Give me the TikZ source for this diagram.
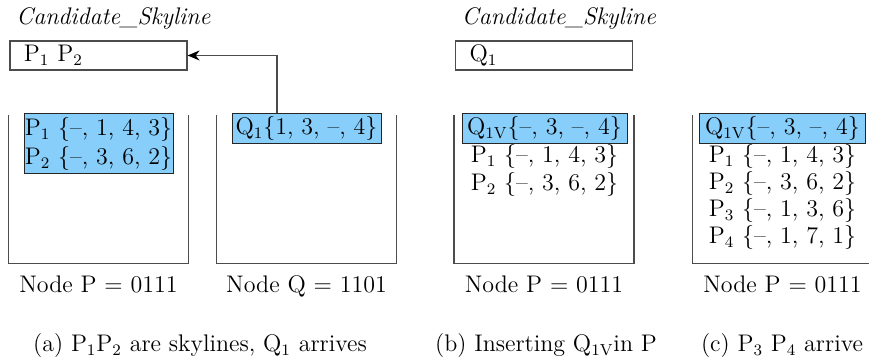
\documentclass[tikz,border=0pt]{standalone}
\usepackage{fontspec}
\usetikzlibrary{arrows.meta,positioning}
\definecolor{entryblue}{RGB}{135,206,250}

\begin{document}
\begin{tikzpicture}[
    x=0.5pt,y=-0.5pt,on grid,>={Stealth[length=6pt,width=5pt,black]},
    font=\fontsize{12}{14.5}\selectfont,
    cand/.style={rectangle,draw=black!70,line width=0.6pt,inner xsep=7pt,
        inner ysep=0pt,text width=74.5pt,align=left,minimum height=14.5pt},
    bin/.style={rectangle,inner sep=0pt,minimum width=89.5pt,minimum height=74pt},
    binline/.style={draw=black!70,line width=0.7pt},
    entry/.style={rectangle,draw=black!85,fill=entryblue,line width=0.5pt,
        inner sep=0pt,minimum height=15pt},
    row/.style={inner sep=0pt},
    title/.style={anchor=base west,font=\fontsize{12}{14.5}\selectfont\itshape},
    binlabel/.style={anchor=base},
    caption/.style={anchor=base}
]
 \useasboundingbox (0,0) rectangle (869,362);

 \node[cand] (ca) at (98.5,55.5) {P$_1$ P$_2$};
 \node[title] (ta) at ([yshift=8pt]ca.north west) {Candidate\_Skyline};
 \node[bin] (binpa) at (98.5,189) {};
 \node[bin] (binqa) at (306.5,189) {};
 \node[entry,minimum width=74.5pt,minimum height=30pt,align=center] (pa) at (98.5,144)
    {P$_1$ \{--, 1, 4, 3\}\\P$_2$ \{--, 3, 6, 2\}};
 \node[entry,minimum width=74.5pt] (qa) at (306.5,129) {Q$_1$\{1, 3, --, 4\}};
 \draw[->,draw=black!70,line width=0.6pt] ([xshift=-14.75pt]qa.north) |- (ca);

 \node[cand] (cb) at (544,55.5) {Q$_1$};
 \node[title] (tb) at ([yshift=8pt]cb.north west) {Candidate\_Skyline};
 \node[bin] (binpb) at (544,189) {};
 \node[entry,minimum width=82.5pt] (qb) at (544.5,129) {Q$_{\mathrm{1V}}$\{--, 3, --, 4\}};
 \node[row,below=14pt of qb] (pb1) {P$_1$ \{--, 1, 4, 3\}};
 \node[row,below=14pt of pb1] (pb2) {P$_2$ \{--, 3, 6, 2\}};

 \node[bin] (binpc) at (782.5,189) {};
 \node[entry,minimum width=83pt] (qc) at (782.5,129) {Q$_{\mathrm{1V}}$\{--, 3, --, 4\}};
 \node[row,below=14pt of qc] (pc1) {P$_1$ \{--, 1, 4, 3\}};
 \node[row,below=13.5pt of pc1] (pc2) {P$_2$ \{--, 3, 6, 2\}};
 \node[row,below=13.5pt of pc2] (pc3) {P$_3$ \{--, 1, 3, 6\}};
 \node[row,below=13.5pt of pc3] (pc4) {P$_4$ \{--, 1, 7, 1\}};

 \foreach \b in {binpa,binqa,binpb,binpc}
    \draw[binline] (\b.north west) -- (\b.south west) -- (\b.south east) -- (\b.north east);

 \node[binlabel] (la) at ([yshift=-14.75pt]binpa.south) {Node P = 0111};
 \node[binlabel] (lb) at ([yshift=-14.75pt]binqa.south) {Node Q = 1101};
 \node[binlabel] (lc) at ([yshift=-14.75pt]binpb.south) {Node P = 0111};
 \node[binlabel] (ld) at ([yshift=-14.75pt]binpc.south) {Node P = 0111};

 \node[caption] (capa) at (200,352) {(a) P$_1$P$_2$ are skylines, Q$_1$ arrives};
 \node[caption] (capb) at (546,352) {(b) Inserting Q$_{\mathrm{1V}}$in P};
 \node[caption,anchor=base west] (capc) at (694,352) {(c) P$_3$ P$_4$ arrive};
\end{tikzpicture}
\end{document}
